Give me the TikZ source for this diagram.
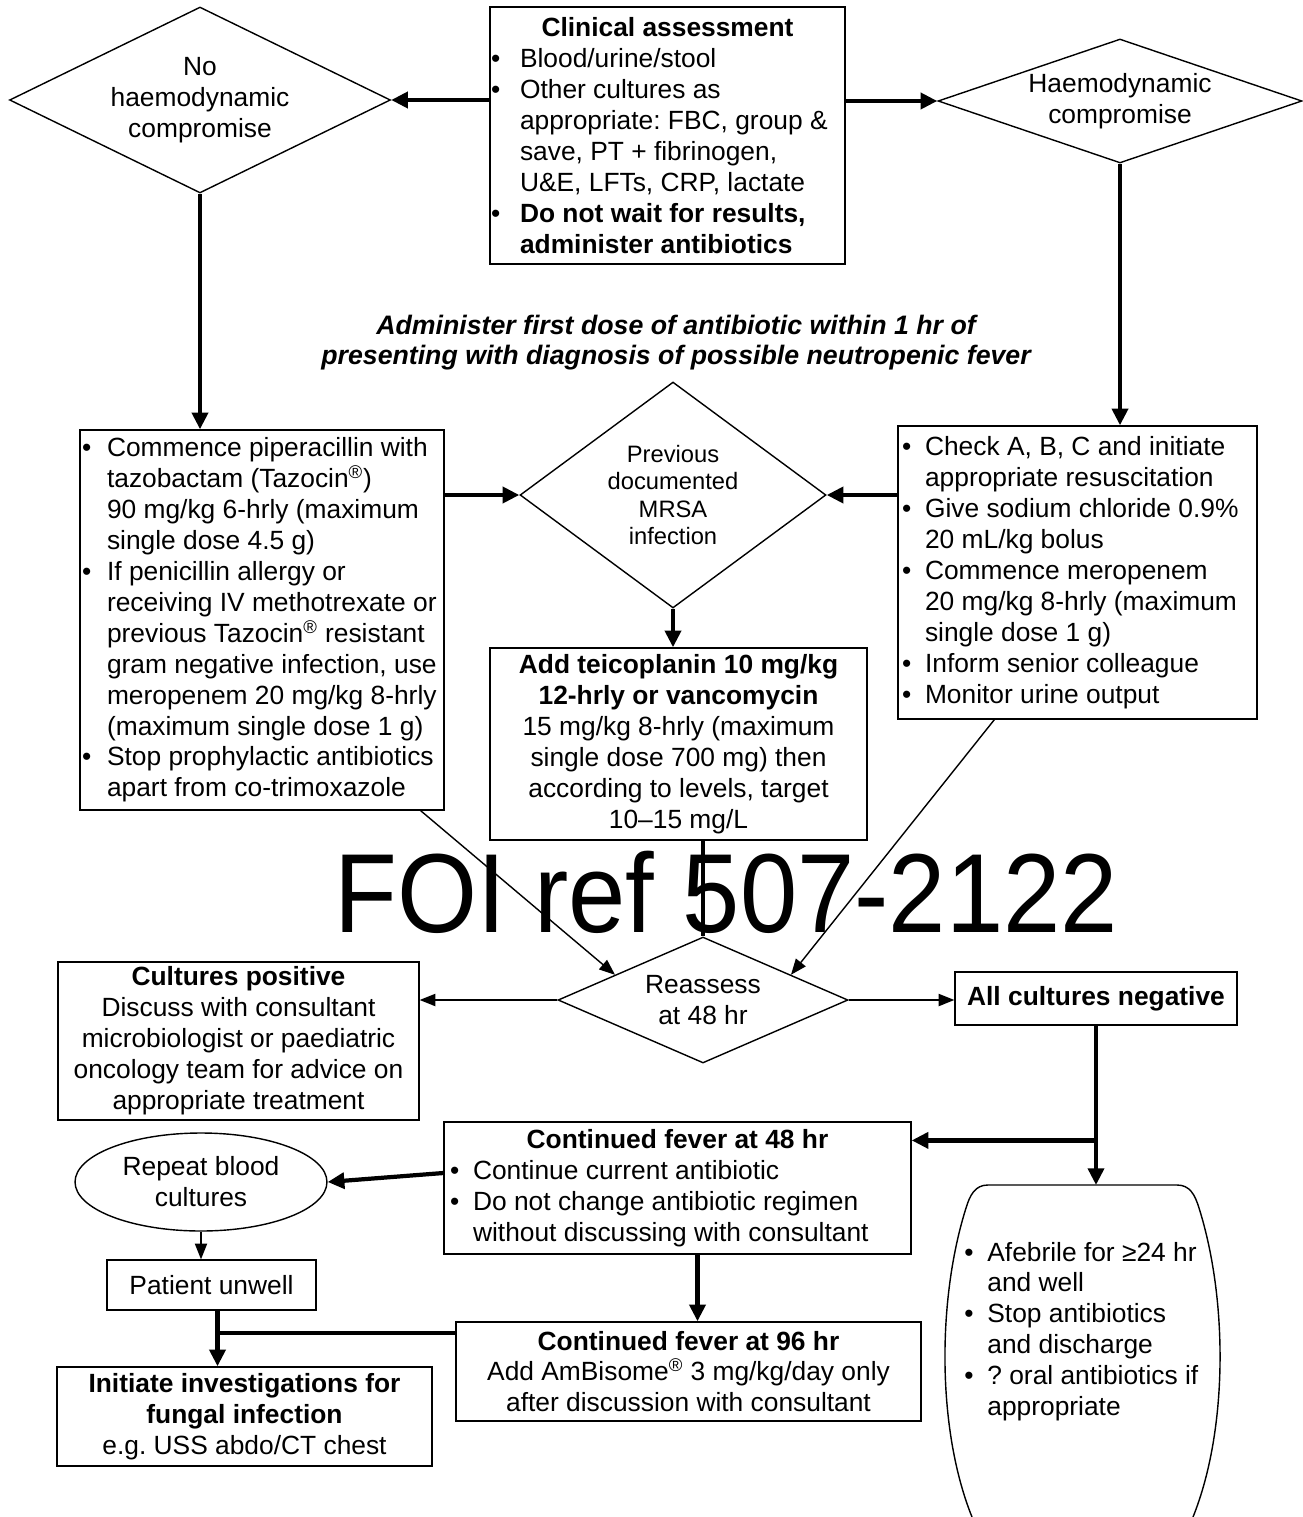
\documentclass[tikz,border=0pt]{standalone}
\usepackage{fontspec}
\setmainfont{Liberation Sans}
\newfontfamily\stampfont[FakeStretch=0.915]{Liberation Sans}
\usetikzlibrary{shapes.geometric,arrows.meta,calc}
\frenchspacing

\newlength{\rowwd}
\newlength{\bulwd}
\newcommand{\bitem}[1]{\makebox[\rowwd][l]{\makebox[\bulwd][l]{•}#1}}
\newcommand{\bcont}[1]{\makebox[\rowwd][l]{\hspace*{\bulwd}#1}}
\newcommand{\regmark}{\smash{\textsuperscript{®}}}

\begin{document}
\begin{tikzpicture}[
        x=0.02cm, y=-0.02cm,
        base/.style={font=\fontsize{15}{17.6}\selectfont},
        box/.style={base, draw, line width=0.8pt, inner sep=0pt, align=center},
        listbox/.style 2 args={box, execute at begin node={\global\rowwd=#1\global\bulwd=#2}},
        decision/.style={base, diamond, draw, line width=0.8pt, inner sep=0pt, align=center},
        flow/.style={line width=2.4pt, -{Triangle[length=9.5pt,width=9pt]}},
        link/.style={line width=0.8pt, -{Triangle[length=9pt,width=7pt]}},
        trunk/.style={line width=2.4pt}
    ]
        \useasboundingbox (0,0) rectangle (1302,1517);
        \fill[white] (0,0) rectangle (1302,1517);

        % Top row
        \node[decision, aspect=2.05, minimum width=7.62cm, minimum height=3.72cm] (nohd) at (200,100) {No\\haemodynamic\\compromise};
        \node[listbox={7.06cm}{0.58cm}, minimum width=7.1cm, minimum height=5.14cm] (clin) at (667.5,135.5) {%
            \textbf{Clinical assessment}\\
            \bitem{Blood/urine/stool}\\
            \bitem{Other cultures as}\\
            \bcont{appropriate: FBC, group \&}\\
            \bcont{save, PT + fibrinogen,}\\
            \bcont{U\&E, LFTs, CRP, lactate}\\
            \bitem{\textbf{Do not wait for results,}}\\
            \bcont{\textbf{administer antibiotics}}};
        \node[decision, aspect=2.94, minimum width=7.28cm, minimum height=2.48cm] (hd) at (1120,101) {Haemodynamic\\compromise};

        % Note
        \node[font=\fontsize{15.2}{17}\selectfont\bfseries\itshape, align=center] (note) at (676,343) {Administer first dose of antibiotic within 1 hr of\\presenting with diagnosis of possible neutropenic fever};

        % Antibiotic row
        \node[listbox={7.2cm}{0.5cm}, minimum width=7.28cm, minimum height=7.6cm] (leftbox) at (262,620) {%
            \bitem{Commence piperacillin with}\\
            \bcont{tazobactam (Tazocin\regmark)}\\
            \bcont{90 mg/kg 6-hrly (maximum}\\
            \bcont{single dose 4.5 g)}\\
            \bitem{If penicillin allergy or}\\
            \bcont{receiving IV methotrexate or}\\
            \bcont{previous Tazocin\regmark{} resistant}\\
            \bcont{gram negative infection, use}\\
            \bcont{meropenem 20 mg/kg 8-hrly}\\
            \bcont{(maximum single dose 1 g)}\\
            \bitem{Stop prophylactic antibiotics}\\
            \bcont{apart from co-trimoxazole}};
        \node[decision, aspect=1.35, minimum width=6.12cm, minimum height=4.52cm, font=\fontsize{13.5}{15.6}\selectfont] (mrsa) at (673,495) {Previous\\documented\\MRSA\\infection};
        \node[listbox={7.02cm}{0.46cm}, minimum width=7.18cm, minimum height=5.86cm] (rightbox) at (1077.5,572.5) {%
            \bitem{Check A, B, C and initiate}\\
            \bcont{appropriate resuscitation}\\
            \bitem{Give sodium chloride 0.9\%}\\
            \bcont{20 mL/kg bolus}\\
            \bitem{Commence meropenem}\\
            \bcont{20 mg/kg 8-hrly (maximum}\\
            \bcont{single dose 1 g)}\\
            \bitem{Inform senior colleague}\\
            \bitem{Monitor urine output}};
        \node[box, minimum width=7.54cm, minimum height=3.84cm] (teico) at (678.5,744) {%
            \textbf{Add teicoplanin 10 mg/kg}\\
            \textbf{12-hrly or vancomycin}\\
            15 mg/kg 8-hrly (maximum\\
            single dose 700 mg) then\\
            according to levels, target\\
            10–15 mg/L};

        % Reassessment row
        \node[decision, aspect=2.3, minimum width=5.8cm, minimum height=2.52cm] (reassess) at (703,1000) {Reassess\\at 48 hr};
        \node[box, minimum width=7.22cm, minimum height=3.16cm] (cultpos) at (238.5,1041) {%
            \textbf{Cultures positive}\\
            Discuss with consultant\\
            microbiologist or paediatric\\
            oncology team for advice on\\
            appropriate treatment};
        \node[box, minimum width=5.64cm, minimum height=1.06cm, font=\fontsize{15}{17.6}\selectfont\bfseries] (allneg) at (1096,998.5) {All cultures negative};

        % Follow-up
        \node[listbox={9.1cm}{0.46cm}, minimum width=9.34cm, minimum height=2.64cm] (cont48) at (677.5,1188) {%
            \textbf{Continued fever at 48 hr}\\
            \bitem{Continue current antibiotic}\\
            \bitem{Do not change antibiotic regimen}\\
            \bcont{without discussing with consultant}};
        \node[base, ellipse, draw, line width=0.8pt, inner sep=0pt, align=center, minimum width=5.04cm, minimum height=1.96cm] (ellipse) at (201,1182) {Repeat blood\\cultures};
        \node[box, minimum width=4.18cm, minimum height=1cm] (unwell) at (211.5,1285) {Patient unwell};
        \node[box, minimum width=9.3cm, minimum height=1.98cm] (cont96) at (688.5,1371.5) {%
            \textbf{Continued fever at 96 hr}\\
            Add AmBisome\regmark{} 3 mg/kg/day only\\
            after discussion with consultant};
        \node[box, minimum width=7.5cm, minimum height=1.98cm] (fungal) at (244.5,1416.5) {%
            \textbf{Initiate investigations for}\\
            \textbf{fungal infection}\\
            e.g. USS abdo/CT chest};

        % Afebrile outcome
        \coordinate (afebtop) at (1083,1185);
        \draw[line width=0.8pt] (972,1517) .. controls (937,1430) and (937,1300) .. (966,1208)
            .. controls (970,1195) and (975,1185) .. (988,1185) -- (1177,1185)
            .. controls (1190,1185) and (1195,1195) .. (1199,1208)
            .. controls (1228,1300) and (1228,1430) .. (1193,1517);
        \node[base, align=left, inner sep=0pt, anchor=west, execute at begin node={\global\rowwd=4.8cm\global\bulwd=0.46cm}] (afeb) at (964,1331.5) {%
            \bitem{Afebrile for ≥24 hr}\\
            \bcont{and well}\\
            \bitem{Stop antibiotics}\\
            \bcont{and discharge}\\
            \bitem{? oral antibiotics if}\\
            \bcont{appropriate}};

        % Connectors
        \draw[flow] (clin.west |- nohd.east) -- (nohd.east);
        \draw[flow] (clin.east |- hd.west) -- (hd.west);
        \draw[flow] (nohd.south) -- (nohd.south |- leftbox.north);
        \draw[flow] (hd.south) -- (hd.south |- rightbox.north);
        \draw[flow] (leftbox.east |- mrsa.west) -- (mrsa.west);
        \draw[flow] (rightbox.west |- mrsa.east) -- (mrsa.east);
        \draw[flow] (mrsa.south) -- (mrsa.south |- teico.north);
        \draw[trunk] (reassess.north |- teico.south) -- (reassess.north);
        \draw[link] ($(leftbox.south east)+(-24,0)$) -- (reassess.164);
        \draw[link] ($(rightbox.south west)+(97,0)$) -- (reassess.16);
        \draw[link] (reassess.west) -- (reassess.west -| cultpos.east);
        \draw[link] (reassess.east) -- (reassess.east -| allneg.west);

        \coordinate (split) at ($(allneg.south)!0.72!(allneg.south |- afebtop)$);
        \draw[flow] (allneg.south) -- (allneg.south |- afebtop);
        \draw[flow] (split) -- (split -| cont48.east);
        \draw[flow] ($(cont48.west)+(0,-15)$) -- (ellipse.east);
        \draw[link] (ellipse.south) -- (ellipse.south |- unwell.north);

        \coordinate (drop) at ($(unwell.south)+(6,0)$);
        \coordinate (fork) at ($(drop)!0.4!(drop |- fungal.north)$);
        \draw[flow] (drop) -- (drop |- fungal.north);
        \draw[trunk] (cont96.west |- fork) -- (fork);
        \coordinate (c48out) at ($(cont48.south)+(20,0)$);
        \draw[flow] (c48out) -- (c48out |- cont96.north);

        % Stamp
        \node[font=\fontsize{64}{64}\stampfont, anchor=base, inner sep=0pt] (stamp) at (726,932) {FOI ref 507-2122};
    \end{tikzpicture}
\end{document}
